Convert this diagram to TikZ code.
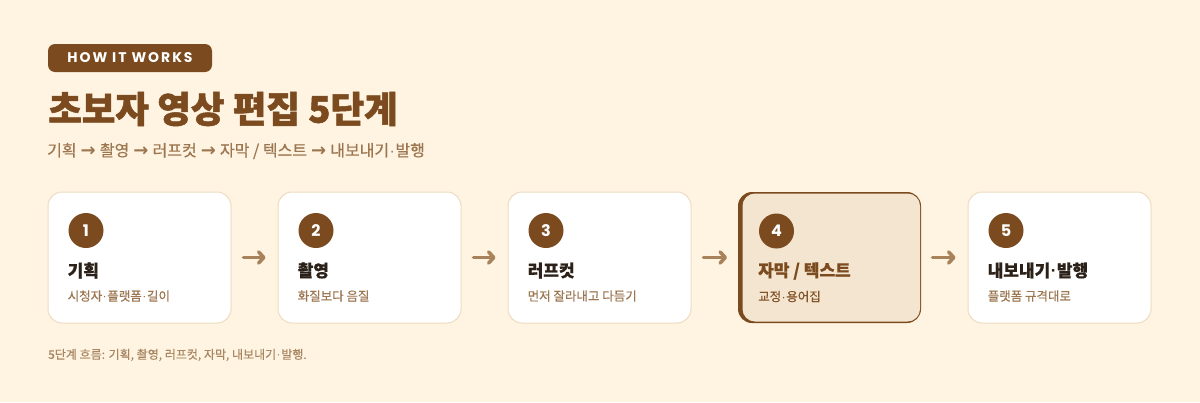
\documentclass[tikz,border=0pt]{standalone}
\usepackage{fontspec}
\setmainfont{Noto Sans CJK KR}
\newfontfamily\badgefont[LetterSpace=14]{Poppins}
\newfontfamily\digitfont{Poppins}
\newfontfamily\heavyfont[BoldFeatures={FakeBold=1.4}]{Noto Sans CJK KR}
\newfontfamily\semifont[BoldFeatures={FakeBold=0.6}]{Noto Sans CJK KR}
\newfontfamily\medfont[FakeBold=0.5]{Noto Sans CJK KR}
\newfontfamily\dotfont{Liberation Sans}
\newfontfamily\arrowfont{DejaVu Sans}
\newcommand{\mdot}{\kern0.5pt{\dotfont ·}\kern0.5pt}
\newcommand{\rarr}{\kern0.5pt{\arrowfont\bfseries\fontsize{18}{18}\selectfont →}\kern0.5pt}
\usetikzlibrary{arrows.meta,calc}
\definecolor{bg}{HTML}{FFF4E1}
\definecolor{brown}{HTML}{7B4A1E}
\definecolor{ink}{HTML}{2B2118}
\definecolor{soft}{HTML}{9C7650}
\definecolor{cardline}{HTML}{EEDCC0}
\definecolor{hlfill}{HTML}{F3E5CF}
\definecolor{arrowc}{HTML}{A8825A}
\definecolor{foot}{HTML}{A88662}
\tikzset{
  card/.style={draw=cardline, line width=1pt, fill=white, rounded corners=14pt,
    minimum width=183pt, minimum height=131pt, inner sep=0pt},
  numdot/.style={circle, fill=brown, text=white, minimum size=35pt, inner sep=0pt,
    font=\digitfont\bfseries\fontsize{16}{16}\selectfont},
  cardtitle/.style={anchor=west, inner sep=0pt, text=ink, font=\semifont\bfseries\fontsize{17}{17}\selectfont},
  cardsub/.style={anchor=west, inner sep=0pt, text=soft, font=\medfont\fontsize{12.5}{12.5}\selectfont},
  flowarrow/.style={draw=arrowc, line width=3.6pt, line cap=round,
    -{Straight Barb[round, length=5pt, width=11pt]}},
}
\begin{document}
\begin{tikzpicture}[x=1pt,y=-1pt]
\fill[bg] (0,0) rectangle (1200,402);
\useasboundingbox (0,0) rectangle (1200,402);

% header
\node[fill=brown, rounded corners=7pt, minimum width=164pt, minimum height=28pt, inner sep=0pt,
  text=white, font=\badgefont\bfseries\fontsize{14}{14}\selectfont] (badge) at (130,58) {HOW IT WORKS};
\node[anchor=west, inner sep=0pt, text=brown, font=\heavyfont\bfseries\fontsize{36.5}{36.5}\selectfont] (title) at (48,109) {초보자 영상 편집 5단계};
\node[anchor=west, inner sep=0pt, text=soft, font=\medfont\fontsize{16}{16}\selectfont] (subtitle) at (47,151) {기획 \rarr{} 촬영 \rarr{} 러프컷 \rarr{} 자막 / 텍스트 \rarr{} 내보내기\mdot 발행};

% cards
\node[card] (c1) at (139.5,257.5) {};
\node[card] (c2) at (369.5,257.5) {};
\node[card] (c3) at (599.5,257.5) {};
\fill[brown, rounded corners=14pt] (738,192) rectangle (921,323);
\node[card, draw=none, fill=hlfill, rounded corners=12.5pt, minimum width=177.5pt, minimum height=128pt] (c4) at (831.25,257.5) {};
\node[card] (c5) at (1059.5,257.5) {};

% card contents
\foreach \c/\n/\t/\s in {c1/1/기획/시청자\mdot 플랫폼\mdot 길이, c2/2/촬영/화질보다 음질, c3/3/러프컷/먼저 잘라내고 다듬기, c5/5/내보내기\mdot 발행/플랫폼 규격대로}{
  \node[numdot] (\c num) at ($(\c.north west)+(38.5,39)$) {\n};
  \node[cardtitle] (\c title) at ($(\c.north west)+(20,79)$) {\t};
  \node[cardsub] (\c sub) at ($(\c.north west)+(20,104.5)$) {\s};
}
\node[numdot] (c4num) at (776.5,231) {4};
\node[cardtitle, text=brown] (c4title) at (758,271) {자막 / 텍스트};
\node[cardsub, text=brown!80!soft] (c4sub) at (758,296.5) {교정\mdot 용어집};

% arrows
\draw[flowarrow] ([xshift=12pt]c1.east) -- ([xshift=-12pt]c2.west);
\draw[flowarrow] ([xshift=12pt]c2.east) -- ([xshift=-12pt]c3.west);
\draw[flowarrow] ([xshift=12pt]c3.east) -- ([xshift=-15pt]c4.west);
\draw[flowarrow] ([xshift=12pt]c4.east) -- ([xshift=-12pt]c5.west);

% footer
\node[anchor=west, inner sep=0pt, text=foot, font=\medfont\fontsize{12}{12}\selectfont] (footer) at (48,355) {5단계 흐름: 기획, 촬영, 러프컷, 자막, 내보내기\mdot 발행.};
\end{tikzpicture}
\end{document}
